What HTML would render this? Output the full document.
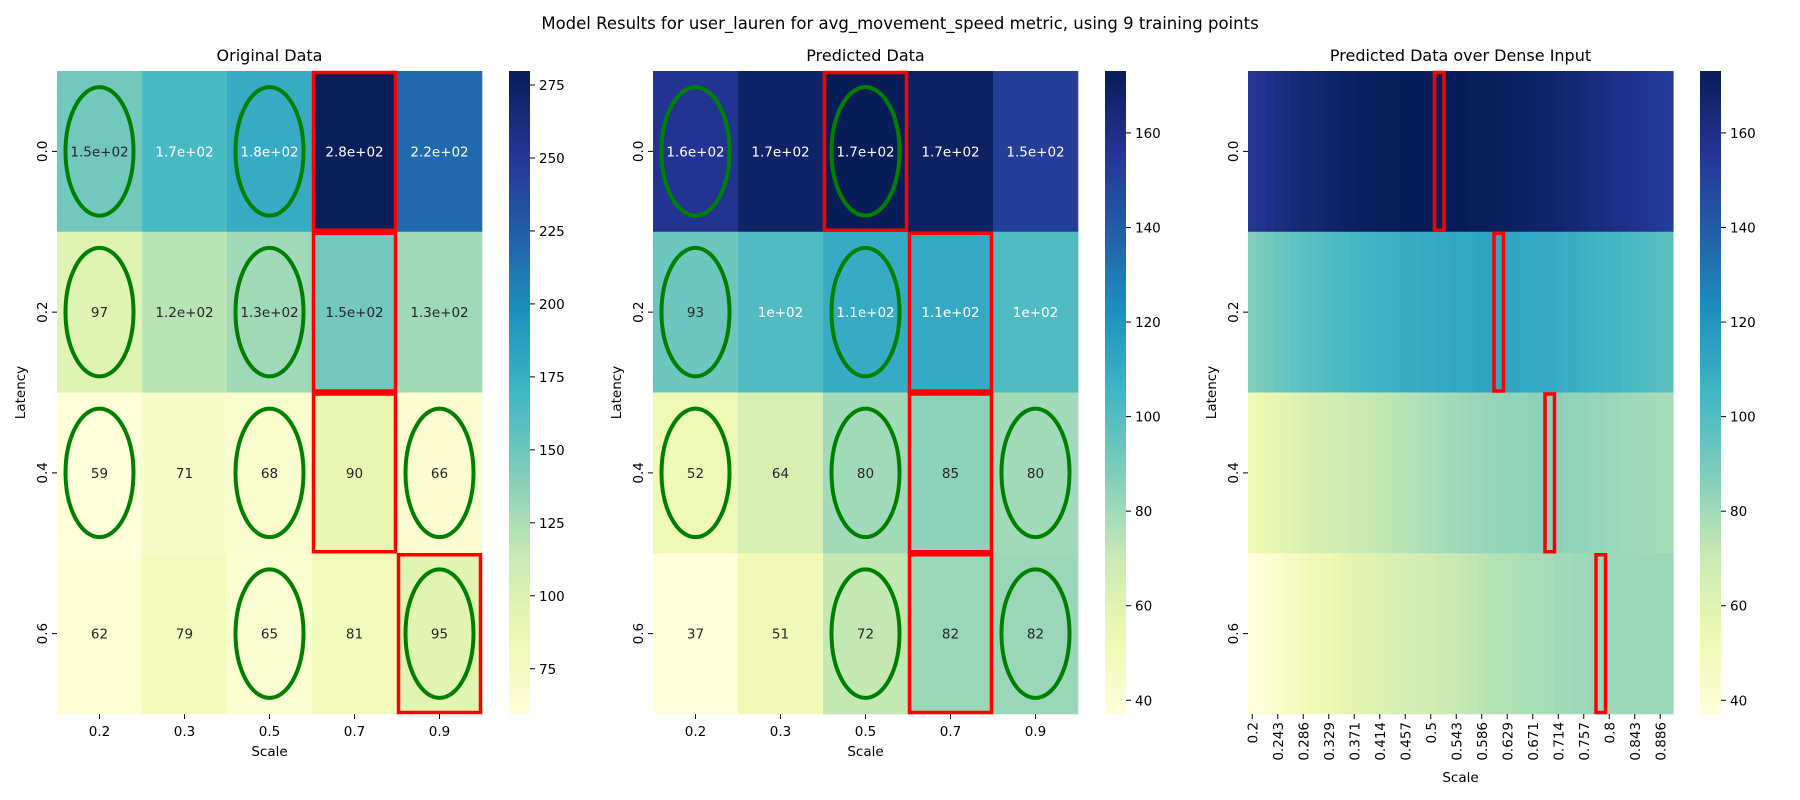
<!DOCTYPE html>
<html><head><meta charset="utf-8"><style>
html,body{margin:0;padding:0;background:#fff;}
svg{display:block;font-family:"DejaVu Sans","Liberation Sans",sans-serif;}
</style></head><body>
<svg id="chart" width="1800" height="800" viewBox="0 0 1800 800">
<text x="900" y="29" text-anchor="middle" font-size="16.5" fill="#000">Model Results for user_lauren for avg_movement_speed metric, using 9 training points</text>
</svg>
<script>
// ---- data ----
const scaleLabels = ["0.2","0.3","0.5","0.7","0.9"];
const latencyLabels = ["0.0","0.2","0.4","0.6"];
const origRow0 = [148,166,178,279,218];
const origRow1 = [97,120,130,148,130];
const origRow2 = [59,71,68,90,66];
const origRow3 = [62,79,65,81,95];
const origLabels = [["1.5e+02","1.7e+02","1.8e+02","2.8e+02","2.2e+02"],["97","1.2e+02","1.3e+02","1.5e+02","1.3e+02"],["59","71","68","90","66"],["62","79","65","81","95"]];
const predRow0 = [157,169,173,170,152];
const predRow1 = [93,101,110,111,101];
const predRow2 = [52,64,80,85,80];
const predRow3 = [37,51,72,82,82];
const predLabels = [["1.6e+02","1.7e+02","1.7e+02","1.7e+02","1.5e+02"],["93","1e+02","1.1e+02","1.1e+02","1e+02"],["52","64","80","85","80"],["37","51","72","82","82"]];
const origTicks = [75,100,125,150,175,200,225,250,275];
const predTicks = [40,60,80,100,120,140,160];
const trainPoints = [[0,0],[0,2],[1,0],[1,2],[2,0],[2,2],[2,4],[3,2],[3,4]];
const origBest = [[0,3],[1,3],[2,3],[3,4]];
const predBest = [[0,2],[1,3],[2,3],[3,3]];
const denseTickLabels = ["0.2","0.243","0.286","0.329","0.371","0.414","0.457","0.5","0.543","0.586","0.629","0.671","0.714","0.757","0.8","0.843","0.886"];
const denseRow0 = [155,157,159,161,162,164,165,166,167,168,169,170,170,171,171,172,172,172,173,173,173,173,173,173,173,173,172,172,172,171,171,170,170,169,168,168,167,166,165,164,163,162,161,160,159,158,157,155,154,152];
const denseRow1 = [88,90,92,94,95,97,98,99,100,101,102,103,104,105,106,107,107,108,109,109,110,110,111,111,112,112,112,113,113,113,113,113,112,112,111,111,110,109,109,108,107,106,105,104,103,102,101,100,99,98];
const denseRow2 = [52,54,56,58,59,61,62,64,65,66,67,68,69,70,71,72,73,74,75,76,77,78,79,80,80,81,82,82,83,83,84,84,84,85,85,85,85,84,84,84,83,83,82,82,81,81,80,80,79,79];
const denseRow3 = [37,39,41,43,45,47,49,51,52,54,55,57,58,59,61,62,63,64,65,66,67,68,69,70,71,72,73,74,75,76,76,77,78,78,79,79,80,80,81,81,82,82,82,82,82,82,82,82,82,82];
const denseBest = [[0,22],[1,29],[2,35],[3,41]];

// ---- helpers ----
const NS="http://www.w3.org/2000/svg";
const svg=document.getElementById('chart');
function mk(tag,attrs,parent){const e=document.createElementNS(NS,tag);for(const k in attrs)e.setAttribute(k,attrs[k]);(parent||svg).appendChild(e);return e;}
const stops=["#ffffd9","#edf8b1","#c7e9b4","#7fcdbb","#41b6c4","#1d91c0","#225ea8","#253494","#081d58"].map(h=>[parseInt(h.substr(1,2),16),parseInt(h.substr(3,2),16),parseInt(h.substr(5,2),16)]);
function cmapRGB(t){t=Math.max(0,Math.min(1,t));const p=t*(stops.length-1);const i=Math.min(stops.length-2,Math.floor(p));const f=p-i;return stops[i].map((c,k)=>Math.round(c+(stops[i+1][k]-c)*f));}
function cmap(t){const c=cmapRGB(t);return `rgb(${c[0]},${c[1]},${c[2]})`;}

const TOP=71,H=643,W=425;
function panel(opts){
  const {left,rows,vmin,vmax,labels,title,ticks,cbLeft,best,train,xLabels,dense,name}=opts;
  const g=mk('g',{},svg);
  
  
  const nr=rows.length,nc=rows[0].length;
  const cw=W/nc,ch=H/nr;
  const xOf=j=>left+j*cw, yOf=i=>TOP+i*ch;
  const norm=v=>(v-vmin)/(vmax-vmin);
  rows.forEach((row,i)=>row.forEach((v,j)=>{
    const r=mk('rect',{x:xOf(j),y:yOf(i),width:cw+(dense?0.6:0.3),height:ch+0.3,fill:cmap(norm(v))},g);
    
    
    if(labels){
      const t=mk('text',{x:xOf(j)+cw/2,y:yOf(i)+ch/2+5,'text-anchor':'middle','font-size':'13.5',fill:norm(v)<0.44?'#262626':'#ffffff'},g);
      t.textContent=labels[i][j];
      
      
    }
  }));
  if(train) train.forEach(([i,j])=>{
    const e=mk('ellipse',{cx:xOf(j)+cw/2,cy:yOf(i)+ch/2,rx:cw*0.4,ry:ch*0.4,fill:'none',stroke:'#008000','stroke-width':4},g);
    
    
  });
  best.forEach(([i,j])=>{
    const r=mk('rect',{x:xOf(j)+1.5,y:yOf(i)+1.5,width:cw-3,height:ch-3,fill:'none',stroke:'#ff0000','stroke-width':3.5},g);
    if(dense){r.setAttribute('x',xOf(j)-0.5);r.setAttribute('width',cw+1);}
    
    
  });
  const tt=mk('text',{x:left+W/2,y:61,'text-anchor':'middle','font-size':'16',fill:'#000'},g);
  tt.textContent=title;
  
  
  latencyLabels.forEach((lab,i)=>{
    const y=yOf(i)+ch/2;
    mk('line',{x1:left-5,x2:left,y1:y,y2:y,stroke:'#000','stroke-width':1},g);
    const t=mk('text',{x:0,y:0,'text-anchor':'middle','font-size':'13.5',transform:`translate(${left-10},${y}) rotate(-90)`},g);
    t.textContent=lab;
    
    
  });
  const yl=mk('text',{x:0,y:0,'text-anchor':'middle','font-size':'13.5',transform:`translate(${left-32},${TOP+H/2}) rotate(-90)`},g);
  yl.textContent='Latency';
  
  
  if(!dense){
    xLabels.forEach((lab,j)=>{
      const x=xOf(j)+cw/2;
      mk('line',{x1:x,x2:x,y1:TOP+H,y2:TOP+H+5,stroke:'#000'},g);
      const t=mk('text',{x:x,y:TOP+H+22,'text-anchor':'middle','font-size':'13.5'},g);
      t.textContent=lab;
      
      
    });
    const xl=mk('text',{x:left+W/2,y:756,'text-anchor':'middle','font-size':'13.5'},g);
    xl.textContent='Scale';
    
    
  } else {
    xLabels.forEach((lab,k)=>{
      const x=xOf(k*3)+cw/2;
      mk('line',{x1:x,x2:x,y1:TOP+H,y2:TOP+H+5,stroke:'#000'},g);
      const t=mk('text',{x:0,y:0,'text-anchor':'end','font-size':'13.5',transform:`translate(${x+5},${TOP+H+8}) rotate(-90)`},g);
      t.textContent=lab;
      
      
    });
    const xl=mk('text',{x:left+W/2,y:782,'text-anchor':'middle','font-size':'13.5'},g);
    xl.textContent='Scale';
    
    
  }
  const cb=mk('g',{},svg);
  
  
  const N=120;
  for(let k=0;k<N;k++){
    mk('rect',{x:cbLeft,y:TOP+H-(k+1)*H/N,width:21,height:H/N+0.5,fill:cmap((k+0.5)/N)},cb);
  }
  ticks.forEach(v=>{
    const y=TOP+H-norm(v)*H;
    mk('line',{x1:cbLeft+21,x2:cbLeft+26,y1:y,y2:y,stroke:'#000'},cb);
    const t=mk('text',{x:cbLeft+30,y:y+5,'font-size':'13.5'},cb);
    t.textContent=v;
    
    
  });
}
panel({name:'original-data-heatmap',left:57,rows:[origRow0,origRow1,origRow2,origRow3],vmin:59.5,vmax:279.8,labels:origLabels,title:'Original Data',ticks:origTicks,cbLeft:509,best:origBest,train:trainPoints,xLabels:scaleLabels});
panel({name:'predicted-data-heatmap',left:653,rows:[predRow0,predRow1,predRow2,predRow3],vmin:37.1,vmax:173.1,labels:predLabels,title:'Predicted Data',ticks:predTicks,cbLeft:1105,best:predBest,train:trainPoints,xLabels:scaleLabels});
panel({name:'dense-prediction-heatmap',left:1248,rows:[denseRow0,denseRow1,denseRow2,denseRow3],vmin:37.1,vmax:173.1,labels:null,title:'Predicted Data over Dense Input',ticks:predTicks,cbLeft:1700,best:denseBest,train:null,xLabels:denseTickLabels,dense:true});
</script>
</body></html>
